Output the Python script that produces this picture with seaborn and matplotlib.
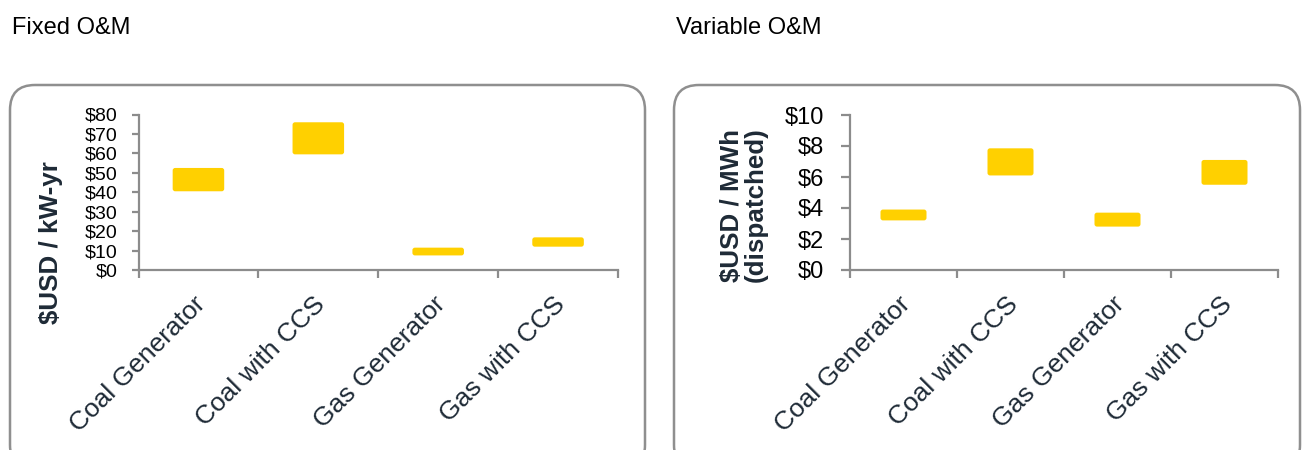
import matplotlib
matplotlib.use("Agg")
import matplotlib.pyplot as plt
import matplotlib.transforms as mtransforms
from matplotlib.patches import FancyBboxPatch
import seaborn as sns
import numpy as np

# categories shared by both panels
technologies = ["Coal Generator", "Coal with CCS", "Gas Generator", "Gas with CCS"]

# Fixed O&M range ($USD / kW-yr)
fixed_low = [40.5, 59.5, 7.5, 12.0]
fixed_high = [52.5, 76.0, 11.5, 16.8]
fixed_ticks = [0, 10, 20, 30, 40, 50, 60, 70, 80]

# Variable O&M range ($USD / MWh dispatched)
var_low = [3.2, 6.1, 2.8, 5.5]
var_high = [3.9, 7.85, 3.7, 7.1]
var_ticks = [0, 2, 4, 6, 8, 10]

BAR = "#FFD000"
GRAY = "#8c8c8c"
NAVY = "#1e2a36"

sns.set_theme(style="white")
plt.rcParams["font.family"] = ["Liberation Sans", "DejaVu Sans"]

W, H = 1302, 450
fig = plt.figure(figsize=(W / 100, H / 100), dpi=100)


def px_box(x0, y0, x1, y1):
    # pixel box (top-left origin) -> figure fraction rect
    return [x0 / W, 1 - y1 / H, (x1 - x0) / W, (y1 - y0) / H]


# rounded frames behind each panel
for x0, x1 in [(10, 645), (674, 1300)]:
    r = px_box(x0, 85, x1, 470)
    frame = FancyBboxPatch((r[0], r[1]), r[2], r[3],
                           boxstyle=f"round,pad=0,rounding_size={25 / W}",
                           mutation_aspect=W / H, transform=fig.transFigure,
                           facecolor="none", edgecolor="#8f8f8f", linewidth=1.8)
    fig.patches.append(frame)

fig.text(12 / W, 1 - 34 / H, "Fixed O&M", fontsize=17, va="baseline", color="black")
fig.text(676 / W, 1 - 34 / H, "Variable O&M", fontsize=17, va="baseline", color="black")


def round_bars(ax, radius_px=2.5):
    # swap the square bars for slightly rounded ones, same geometry
    bbox = ax.get_window_extent()
    x0, x1 = ax.get_xlim()
    y0, y1 = ax.get_ylim()
    ux = (x1 - x0) / bbox.width
    uy = (y1 - y0) / bbox.height
    for p in list(ax.patches):
        x, y = p.get_xy()
        rb = FancyBboxPatch((x, y), p.get_width(), p.get_height(),
                            boxstyle=f"round,pad=0,rounding_size={radius_px * ux}",
                            mutation_aspect=uy / ux, facecolor=BAR, edgecolor="none")
        p.remove()
        ax.add_patch(rb)


def draw_panel(ax, low, high, ticks, ylabel, ytick_size, ytick_len, ytick_pad, label_xy):
    heights = np.array(high) - np.array(low)
    sns.barplot(x=technologies, y=heights, bottom=low, color=BAR, saturation=1,
                width=0.43, errorbar=None, linewidth=0, ax=ax)
    sns.despine(ax=ax)
    for side in ["left", "bottom"]:
        ax.spines[side].set_color(GRAY)
        ax.spines[side].set_linewidth(1.6)
    ax.set_xlim(-0.5, 3.5)
    ax.set_ylim(ticks[0], ticks[-1])
    ax.set_yticks(ticks, [f"${t}" for t in ticks])
    ax.tick_params(axis="y", length=ytick_len, width=1.6, color=GRAY, pad=ytick_pad,
                   labelsize=ytick_size, labelcolor="black", left=True)
    ax.set_xticks(range(len(technologies)), technologies)
    ax.set_xticks(np.arange(-0.5, len(technologies)), minor=True)
    ax.tick_params(axis="x", which="major", length=0, pad=16, labelsize=19, labelcolor=NAVY)
    ax.tick_params(axis="x", which="minor", length=6, width=1.6, color=GRAY, bottom=True)
    shift = mtransforms.ScaledTranslation(-5 / 100, 0, fig.dpi_scale_trans)
    for lab in ax.get_xticklabels():
        lab.set_rotation(45)
        lab.set_ha("right")
        lab.set_va("top")
        lab.set_rotation_mode("anchor")
        lab.set_transform(lab.get_transform() + shift)
    ax.set_xlabel("")
    ax.set_ylabel(ylabel, fontsize=18.7, fontweight="bold", color=NAVY, linespacing=1.0)
    ax.yaxis.set_label_coords(*label_xy)
    ax.yaxis.label.set_va("center")
    ax.grid(False)
    round_bars(ax)


ax1 = fig.add_axes(px_box(138.5, 114.5, 618, 270))
draw_panel(ax1, fixed_low, fixed_high, fixed_ticks, "$USD / kW-yr", 14, 5, 10, (-0.1825, 0.174))

ax2 = fig.add_axes(px_box(850, 115, 1278, 270))
draw_panel(ax2, var_low, var_high, var_ticks, "$USD / MWh\n(dispatched)", 17, 6.5, 12.5, (-0.248, 0.419))

fig.savefig("out.png", dpi=100)
